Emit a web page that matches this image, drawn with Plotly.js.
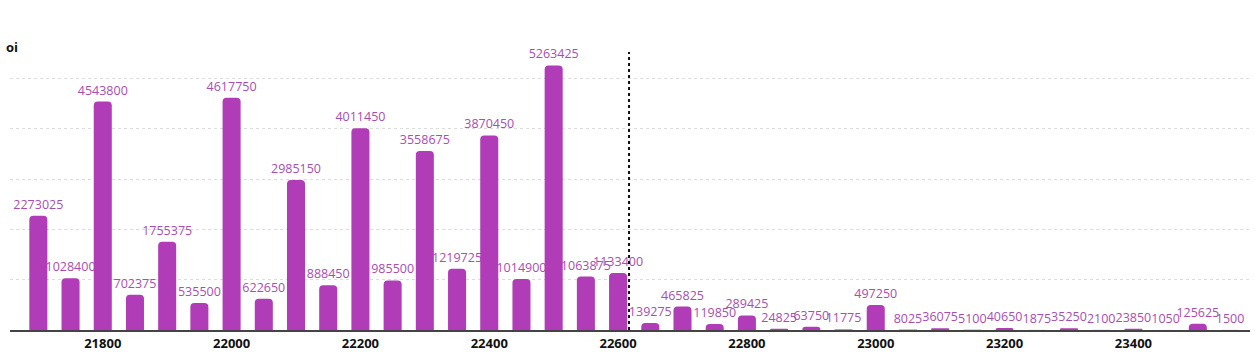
<!DOCTYPE html>
<html>
<head>
<meta charset="utf-8">
<script src="https://cdn.plot.ly/plotly-3.0.1.min.js"></script>
<style>
html,body{margin:0;padding:0;background:#fff;}
#top{position:absolute;left:0;top:0;width:1255px;height:1px;background:#e4e4e4;}
#chart{width:1255px;height:352px;}
</style>
</head>
<body>
<div id="top"></div>
<div id="chart"></div>
<script>
const strikes = [21700,21750,21800,21850,21900,21950,22000,22050,22100,22150,22200,22250,22300,22350,22400,22450,22500,22550,22600,22650,22700,22750,22800,22850,22900,22950,23000,23050,23100,23150,23200,23250,23300,23350,23400,23450,23500,23550];
const oi = [2273025,1028400,4543800,702375,1755375,535500,4617750,622650,2985150,888450,4011450,985500,3558675,1219725,3870450,1014900,5263425,1063875,1133400,139275,465825,119850,289425,24825,63750,11775,497250,8025,36075,5100,40650,1875,35250,2100,23850,1050,125625,1500];
const spot = 22617;
const yTitle = "oi";

Plotly.newPlot('chart', [{
  type: 'bar',
  x: strikes,
  y: oi,
  width: 28,
  marker: {color: '#b13cb7', cornerradius: 4},
  text: oi.map(String),
  textposition: 'outside',
  constraintext: 'none',
  cliponaxis: false,
  textfont: {color: '#a84db3', size: 12.5, family: 'Open Sans, sans-serif'},
  hoverinfo: 'x+y'
}], {
  width: 1255, height: 352,
  margin: {l: 10, r: 5, t: 52, b: 22},
  paper_bgcolor: '#fff', plot_bgcolor: '#fff',
  showlegend: false,
  xaxis: {
    range: [21656, 23581],
    tickmode: 'linear', tick0: 21800, dtick: 200,
    tickformat: 'd',
    showgrid: false, zeroline: false,
    showline: true, linecolor: '#444', linewidth: 2,
    ticks: '',
    tickfont: {family: 'Open Sans, sans-serif', size: 13, color: '#111', weight: 'bold'}
  },
  yaxis: {
    range: [0, 5530000],
    tickmode: 'linear', tick0: 0, dtick: 1000000,
    showticklabels: false,
    showgrid: true, gridcolor: '#dcdcdc', griddash: 'dot', gridwidth: 1,
    zeroline: false, showline: false
  },
  shapes: [{
    type: 'line', xref: 'x', yref: 'paper',
    x0: spot, x1: spot, y0: 0, y1: 1,
    line: {color: '#111', width: 2, dash: 'dot'}
  }],
  annotations: [{
    xref: 'paper', yref: 'paper', x: 0, y: 1, xshift: -6, yshift: 5,
    xanchor: 'left', yanchor: 'middle', showarrow: false,
    text: '<b>' + yTitle + '</b>',
    font: {family: 'Open Sans, sans-serif', size: 13, color: '#111'}
  }]
}, {displayModeBar: false, staticPlot: true});
</script>
</body>
</html>
